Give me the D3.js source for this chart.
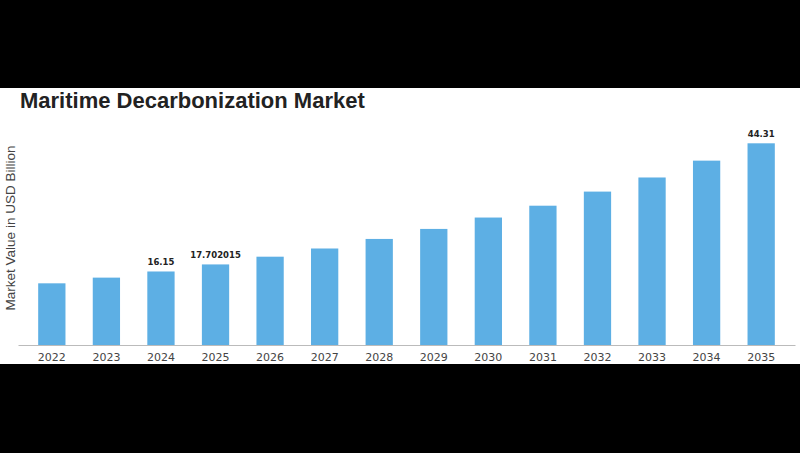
<!DOCTYPE html>
<html><head><meta charset="utf-8">
<script src="https://cdn.jsdelivr.net/npm/d3@7"></script>
<style>html,body{margin:0;padding:0;background:#000;}svg{display:block;}</style>
</head><body>
<svg id="c" width="800" height="453"></svg>
<script>
const years = ["2022","2023","2024","2025","2026","2027","2028","2029","2030","2031","2032","2033","2034","2035"];
const values = [13.55, 14.8, 16.15, 17.702015, 19.4, 21.2, 23.3, 25.5, 28.0, 30.6, 33.7, 36.8, 40.5, 44.31];
const labelled = ["2024","2025","2035"];
const title = "Maritime Decarbonization Market";
const yTitle = "Market Value in USD Billion";

const svg = d3.select("#c");
svg.append("rect").attr("x",0).attr("y",0).attr("width",800).attr("height",453).attr("fill","#000");
svg.append("rect").attr("x",0).attr("y",88).attr("width",800).attr("height",276).attr("fill","#fff");

const x = d3.scaleBand().domain(years).range([18, 795]).paddingInner(0.5).paddingOuter(0.37);
const y = d3.scaleLinear().domain([0, 44.31]).range([345, 143.3]);

svg.append("text").attr("x",20).attr("y",108).text(title)
  .attr("font-family","Liberation Sans, Arial, sans-serif").attr("font-weight","bold")
  .attr("font-size",22).attr("fill","#222");

svg.append("text").attr("transform","translate(15,228) rotate(-90)").attr("text-anchor","middle")
  .text(yTitle).attr("font-family","Liberation Sans, Arial, sans-serif").attr("font-size",13.5).attr("fill","#444");

svg.selectAll("rect.bar").data(years).enter().append("rect").attr("class","bar")
  .attr("x", d=>x(d)).attr("width", x.bandwidth())
  .attr("y", (d,i)=>y(values[i])).attr("height",(d,i)=>y(0)-y(values[i]))
  .attr("fill","#5dafe4");

const ax = svg.append("g").attr("transform",`translate(0,${y(0)})`)
  .call(d3.axisBottom(x).tickSize(0).tickPadding(8));
ax.select(".domain").attr("stroke","#bbb").attr("stroke-width",1);
ax.selectAll("text").attr("font-family","DejaVu Sans, sans-serif").attr("font-size",11).attr("fill","#444");

svg.selectAll("text.val").data(years.filter(d=>labelled.includes(d))).enter().append("text").attr("class","val")
  .attr("x", d=>x(d)+x.bandwidth()/2).attr("y", d=>y(values[years.indexOf(d)])-6)
  .attr("text-anchor","middle").text(d=>String(values[years.indexOf(d)]))
  .attr("font-family","DejaVu Sans, sans-serif").attr("font-weight","bold").attr("font-size",8.5).attr("fill","#222");
</script>
</body></html>
